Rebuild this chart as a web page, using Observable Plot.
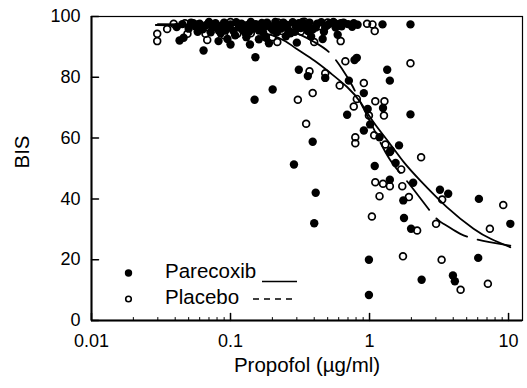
<!DOCTYPE html>
<html><head><meta charset="utf-8">
<script src="https://cdn.jsdelivr.net/npm/d3@7"></script>
<script src="https://cdn.jsdelivr.net/npm/@observablehq/plot@0.6"></script>
<style>
html,body{margin:0;padding:0;background:#fff;}
#wrap{position:relative;width:527px;height:388px;font-family:"Liberation Sans",Arial,sans-serif;}
#legend{position:absolute;left:0;top:0;pointer-events:none;}
</style></head>
<body><div id="wrap"></div>
<script>
// ---------- data ----------
const seriesNames = ["Parecoxib", "Placebo"];
const xDomain = [0.01, 12.6];
const yDomain = [0, 100];
const xTicks = [0.01, 0.1, 1, 10];
const xTickLabels = ["0.01", "0.1", "1", "10"];
const xMinorTicks = [0.02,0.03,0.04,0.05,0.06,0.07,0.08,0.09,0.2,0.3,0.4,0.5,0.6,0.7,0.8,0.9,2,3,4,5,6,7,8,9];
const yTicks = [0, 20, 40, 60, 80, 100];

// Parecoxib (filled circles): [propofol µg/ml, BIS]
const parecoxibPoints = [
  [0.041,96.5],[0.043,92.1],[0.046,93.0],[0.064,88.8],[0.082,91.9],[0.095,92.6],[0.1,90.8],
  [0.138,90.8],[0.151,86.6],[0.189,91.2],[0.149,72.6],[0.201,76.0],[0.30,91.4],[0.31,82.5],
  [0.36,80.4],[0.38,93.4],[0.46,92.6],[0.48,79.8],[0.59,94.0],[0.77,97.8],[0.82,97.3],
  [1.24,97.4],[1.97,97.4],[0.78,85.7],[0.81,86.4],[1.34,82.5],[1.40,78.9],[0.71,78.9],
  [0.91,74.8],[1.25,69.9],[0.69,67.7],[1.97,67.8],[0.39,58.8],[0.97,69.6],[1.01,64.5],
  [0.91,62.5],[1.18,60.3],[1.42,55.9],[1.63,57.6],[1.09,50.8],[1.40,55.4],[1.54,51.8],
  [1.40,46.3],[1.75,39.5],[2.06,45.3],[3.21,43.0],[3.68,41.7],[6.12,40.0],[10.3,31.8],
  [1.77,33.7],[1.99,30.2],[0.99,20.0],[6.05,20.6],[0.99,8.4],[2.37,13.4],[3.98,14.8],
  [4.11,12.9],[0.286,51.3],[0.41,42.0],[0.40,32.0],
  [0.045,97.5],[0.05,96],[0.052,98],[0.056,96.8],[0.06,97.6],[0.063,95.8],[0.067,97.2],
  [0.07,98.2],[0.074,96.4],[0.078,97.8],[0.082,95.5],[0.086,97],[0.09,98],[0.095,96.2],
  [0.1,97.4],[0.105,95.2],[0.11,98.1],[0.115,96.6],[0.12,97.6],[0.127,94.8],[0.133,97.1],
  [0.14,98.2],[0.145,96],[0.152,97.5],[0.16,95.4],[0.168,97.9],[0.175,96.5],[0.183,98],
  [0.19,97],[0.2,95.8],[0.21,98.2],[0.22,97],[0.23,96],[0.24,98],[0.255,97.2],[0.27,94.5],
  [0.28,98.1],[0.295,96.8],[0.31,97.8],[0.33,98.2],[0.35,97],[0.37,98],[0.39,95.8],
  [0.42,97.6],[0.45,98.1],[0.48,96.5],[0.52,97.8],[0.55,98.2],[0.6,97.2],[0.65,98],
  [0.7,97.5],[0.18,93],[0.25,93.5],[0.13,93.2],[0.085,94.5],[0.16,92.5],
  [0.058,95],[0.072,94.8],[0.092,95.4],[0.108,93.8],[0.122,95.6],[0.136,95],[0.158,97],
  [0.172,94.6],[0.195,96.3],[0.215,94.8],[0.235,97.6],[0.26,95.6],[0.29,95],[0.32,96.2],
  [0.36,95.2],[0.41,96.4],[0.47,95],[0.5,97.2],[0.57,96.4],[0.63,96.8],[0.75,96.6]
];

// Placebo (open circles)
const placeboPoints = [
  [0.0297,94.3],[0.0297,91.9],[0.035,95.9],[0.039,97.6],[0.047,97.8],[0.054,97.8],[0.058,97.4],
  [0.049,94.3],[0.066,94.3],[0.068,92.3],[0.112,94.3],[0.217,91.6],[0.235,95.2],[0.32,95.1],
  [0.40,91.6],[0.62,91.9],[0.57,97.6],[0.62,97.8],[0.96,97.6],[1.05,97.4],[1.09,95.2],
  [0.67,85.3],[0.37,82.0],[0.48,81.3],[1.97,84.6],[0.91,78.1],[0.61,77.3],[0.39,74.8],
  [0.305,72.6],[0.81,72.9],[0.77,70.4],[1.10,72.1],[1.28,72.1],[1.27,67.4],[0.35,64.7],
  [0.99,67.4],[1.08,60.9],[1.30,57.9],[0.79,60.3],[0.79,58.3],[2.35,53.7],[1.69,49.7],
  [1.10,45.5],[1.25,45.0],[1.40,44.2],[1.18,40.9],[1.72,44.2],[1.92,40.6],[3.33,39.8],
  [9.16,38.0],[7.34,30.2],[1.04,34.2],[2.2,29.6],[3.01,31.8],[1.74,21.1],[3.3,20.0],
  [4.52,10.1],[7.1,12.1],
  [0.07,97.9],[0.08,96.3],[0.1,98.2],[0.13,97],[0.17,96.8],[0.22,98],[0.28,96.2],
  [0.34,98.3],[0.44,96.8],[0.5,98],[0.09,93.8],[0.14,94.5],[0.2,93.2]
];

// fitted curves
const parecoxibFit = [
  [0.029,97.2],[0.05,97],[0.1,96.3],[0.15,95.3],[0.2,93.8],[0.25,91.8],[0.3,89.3],[0.4,85.5],
  [0.52,81.5],[0.69,76.8],[0.86,71.8],[1.07,65.2],[1.41,58],[1.77,52],[2.32,46],[3.6,37.3],
  [5.6,30.2],[7.5,26.8],[10.3,24.1]
];
const placeboFit = [
  [0.03,97.5],[0.1,97.3],[0.2,96.5],[0.3,94.5],[0.4,91.6],[0.51,88.3],[0.63,83],[0.75,77.3],
  [0.9,70],[1.1,62],[1.4,53],[1.97,44.4],[2.9,34.5],[3.5,31.5],[4.5,28.5],[6,26.6],[7.3,25.8],
  [10.3,24.6]
];

// ---------- chart ----------
const tickUp = {draw(ctx, l) { ctx.moveTo(0, 0); ctx.lineTo(0, -l); }};
const tickRight = {draw(ctx, l) { ctx.moveTo(0, 0); ctx.lineTo(l, 0); }};

const chart = Plot.plot({
  width: 527, height: 388,
  marginLeft: 91, marginRight: 5, marginTop: 16, marginBottom: 68,
  style: {fontFamily: "'Liberation Sans', Arial, sans-serif", color: "#000", background: "#fff", overflow: "visible"},
  x: {type: "log", domain: xDomain},
  y: {domain: yDomain},
  marks: [
    Plot.axisX({ticks: xTicks, tickFormat: (d, i) => xTickLabels[xTicks.indexOf(d)], tickSize: 0, tickPadding: 14, fontSize: 18, label: null}),
    Plot.axisY({ticks: yTicks, tickSize: 0, tickPadding: 11, fontSize: 18, label: null}),
    Plot.text(["Propofol (µg/ml)"], {frameAnchor: "bottom", dy: 45, fontSize: 20.5, lineAnchor: "middle"}),
    Plot.text(["BIS"], {frameAnchor: "left", dx: -69, rotate: -90, fontSize: 20.5, lineAnchor: "middle"}),
    Plot.frame({stroke: "#000", strokeWidth: 1.2}),
    Plot.ruleY([yDomain[0]], {stroke: "#000", strokeWidth: 2}),
    Plot.ruleX([xDomain[0]], {stroke: "#000", strokeWidth: 2}),
    Plot.vector(xTicks, {x: d => d, frameAnchor: "bottom", length: 7, anchor: "start", shape: tickUp, stroke: "#000", strokeWidth: 1.5}),
    Plot.vector(xMinorTicks, {x: d => d, frameAnchor: "bottom", length: 3, anchor: "start", shape: tickUp, stroke: "#000", strokeWidth: 1}),
    Plot.vector(yTicks, {y: d => d, frameAnchor: "left", length: 7, anchor: "start", shape: tickRight, stroke: "#000", strokeWidth: 1.5}),
    Plot.line(parecoxibFit, {x: d => d[0], y: d => d[1], curve: "natural", stroke: "#000", strokeWidth: 1.8}),
    Plot.line(placeboFit, {x: d => d[0], y: d => d[1], curve: "natural", stroke: "#000", strokeWidth: 1.8, strokeDasharray: "36,11"}),
    Plot.dot(placeboPoints, {x: d => d[0], y: d => d[1], r: 3.4, fill: "none", stroke: "#000", strokeWidth: 1.7}),
    Plot.dot(parecoxibPoints, {x: d => d[0], y: d => d[1], r: 4.2, fill: "#000", stroke: "none"})
  ]
});
const wrap = document.getElementById("wrap");
wrap.appendChild(chart);

// ---------- legend (overlay inside plot area) ----------
const leg = d3.select(wrap).append("svg").attr("id", "legend").attr("width", 527).attr("height", 388);
const legRows = [
  {name: seriesNames[0], y: 278, filled: true, dash: null, lx1: 262},
  {name: seriesNames[1], y: 304, filled: false, dash: "6,5", lx1: 253}
];
legRows.forEach(r => {
  const g = leg.append("g");
  g.append("circle").attr("cx", 128.5).attr("cy", r.y - 5)
    .attr("r", r.filled ? 3.7 : 2.8)
    .attr("fill", r.filled ? "#000" : "none")
    .attr("stroke", r.filled ? "none" : "#000").attr("stroke-width", 1.6);
  g.append("text").attr("x", 165).attr("y", r.y)
    .attr("font-family", "'Liberation Sans', Arial, sans-serif").attr("font-size", 20.5)
    .attr("fill", "#000").text(r.name);
  g.append("line").attr("x1", r.lx1).attr("x2", 297)
    .attr("y1", r.filled ? r.y + 3.5 : r.y - 5).attr("y2", r.filled ? r.y + 3.5 : r.y - 5)
    .attr("stroke", "#000").attr("stroke-width", 1.5)
    .attr("stroke-dasharray", r.dash);
});
</script>
</body></html>
